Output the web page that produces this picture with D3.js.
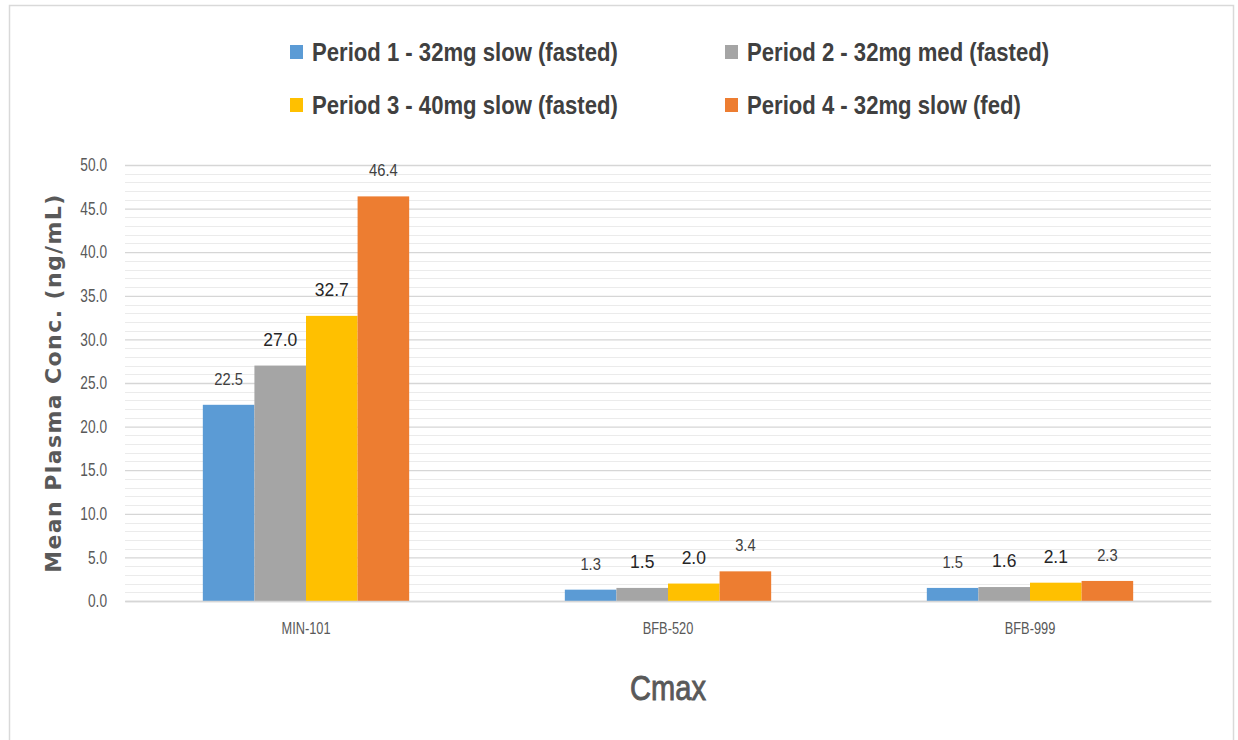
<!DOCTYPE html>
<html>
<head>
<meta charset="utf-8">
<script src="https://cdn.jsdelivr.net/npm/d3@7"></script>
<style>
  html, body { margin: 0; padding: 0; background: #ffffff; }
  svg { display: block; }
</style>
</head>
<body>
<script>
// Compounds on the x axis
const categories = ["MIN-101", "BFB-520", "BFB-999"];

// Dosing periods (series)
const seriesNames = [
  "Period 1 - 32mg slow (fasted)",
  "Period 2 - 32mg med (fasted)",
  "Period 3 - 40mg slow (fasted)",
  "Period 4 - 32mg slow (fed)"
];

// Cmax values (ng/mL), one array per period, in category order
const period1 = [22.5, 1.3, 1.5];
const period2 = [27.0, 1.5, 1.6];
const period3 = [32.7, 2.0, 2.1];
const period4 = [46.4, 3.4, 2.3];
const seriesValues = [period1, period2, period3, period4];

// Y axis ticks
const yTicks = [0, 5, 10, 15, 20, 25, 30, 35, 40, 45, 50];

const colors = ["#5b9bd5", "#a5a5a5", "#ffc000", "#ed7d31"];

// Some data labels were set in a larger, darker face
const emphasisLabels = new Set(["1-0", "2-0", "1-1", "2-1", "1-2", "2-2"]);

const W = 1238, H = 740;
const sans = "'Liberation Sans', Arial, sans-serif";

// Squeeze a text run horizontally to imitate a condensed face
function condense(sel, k) {
  sel.each(function () {
    const w = this.getComputedTextLength();
    d3.select(this)
      .attr("textLength", w * k)
      .attr("lengthAdjust", "spacingAndGlyphs");
  });
}

const svg = d3.select("body").append("svg")
  .attr("width", W).attr("height", H);

// Chart frame
svg.append("rect")
  .attr("x", 9.5).attr("y", 5.5)
  .attr("width", 1224).attr("height", 740)
  .attr("fill", "#ffffff")
  .attr("stroke", "#d9d9d9").attr("stroke-width", 1.5);

const plot = { left: 125, right: 1211, top: 165, bottom: 601 };

const x0 = d3.scaleBand()
  .domain(categories)
  .range([plot.left, plot.right])
  .paddingInner(0.43)
  .paddingOuter(0.215);

const x1 = d3.scaleBand()
  .domain(d3.range(seriesNames.length))
  .range([0, x0.bandwidth()]);

const y = d3.scaleLinear().domain([0, 50]).range([plot.bottom, plot.top]);

// Minor gridlines every 1.0
const g = svg.append("g");
g.selectAll("line.minor")
  .data(d3.range(1, 50).filter(v => v % 5 !== 0))
  .join("line")
  .attr("class", "minor")
  .attr("x1", plot.left).attr("x2", plot.right)
  .attr("y1", d => Math.round(y(d)) + 0.5).attr("y2", d => Math.round(y(d)) + 0.5)
  .attr("stroke", "#ebebeb").attr("stroke-width", 1);

// Major gridlines via the axis
const yAxis = d3.axisLeft(y)
  .tickValues(yTicks)
  .tickFormat(d3.format(".1f"))
  .tickSize(-(plot.right - plot.left))
  .tickPadding(18);

const ya = svg.append("g")
  .attr("transform", `translate(${plot.left},0)`)
  .call(yAxis);
ya.select(".domain").remove();
ya.selectAll(".tick line").attr("stroke", "#d6d6d6").attr("stroke-width", 1.3);
ya.selectAll(".tick text")
  .attr("fill", "#595959")
  .style("font-family", sans)
  .style("font-size", "18px")
  .call(condense, 0.76);

// Bars
const groups = svg.append("g").selectAll("g")
  .data(categories)
  .join("g")
  .attr("transform", d => `translate(${x0(d)},0)`);

groups.selectAll("rect")
  .data((c, ci) => seriesValues.map((vals, si) => ({ si, ci, v: vals[ci] })))
  .join("rect")
  .attr("x", d => x1(d.si))
  .attr("width", x1.bandwidth())
  .attr("y", d => y(d.v))
  .attr("height", d => y(0) - y(d.v))
  .attr("fill", d => colors[d.si]);

// Data labels
groups.selectAll("text")
  .data((c, ci) => seriesValues.map((vals, si) => ({ si, ci, v: vals[ci] })))
  .join("text")
  .attr("x", d => x1(d.si) + x1.bandwidth() / 2)
  .attr("y", d => y(d.v) - 20)
  .attr("text-anchor", "middle")
  .attr("fill", d => emphasisLabels.has(`${d.si}-${d.ci}`) ? "#262626" : "#404040")
  .style("font-family", sans)
  .style("font-size", d => emphasisLabels.has(`${d.si}-${d.ci}`) ? "19px" : "16px")
  .text(d => d3.format(".1f")(d.v))
  .call(condense, 0.92);

// Category axis
const xAxis = d3.axisBottom(x0).tickSize(0).tickPadding(22);
const xa = svg.append("g")
  .attr("transform", `translate(0,${plot.bottom})`)
  .call(xAxis);
xa.select(".domain")
  .attr("stroke", "#d6d6d6").attr("stroke-width", 1.3);
xa.selectAll(".tick text")
  .attr("fill", "#595959")
  .style("font-family", sans)
  .style("font-size", "16px")
  .call(condense, 0.8);

// Axis titles
svg.append("text")
  .attr("transform", `translate(61,${(plot.top + plot.bottom) / 2}) rotate(-90)`)
  .attr("text-anchor", "middle")
  .attr("fill", "#595959")
  .style("font-family", "'DejaVu Sans', Verdana, sans-serif")
  .style("font-weight", "bold")
  .style("font-size", "22px")
  .style("letter-spacing", "1.4px")
  .text("Mean Plasma Conc. (ng/mL)");

svg.append("text")
  .attr("x", (plot.left + plot.right) / 2)
  .attr("y", 700)
  .attr("text-anchor", "middle")
  .attr("fill", "#595959")
  .attr("stroke", "#595959")
  .attr("stroke-width", 0.9)
  .style("font-family", sans)
  .style("font-size", "35px")
  .text("Cmax")
  .call(condense, 0.83);

// Legend: two columns, two rows
const legendPos = [
  { x: 290, y: 52 }, { x: 725, y: 52 },
  { x: 290, y: 105 }, { x: 725, y: 105 }
];
const legend = svg.append("g").selectAll("g")
  .data(seriesNames)
  .join("g")
  .attr("transform", (d, i) => `translate(${legendPos[i].x},${legendPos[i].y})`);
legend.append("rect")
  .attr("x", 0).attr("y", -7)
  .attr("width", 13).attr("height", 14)
  .attr("fill", (d, i) => colors[i]);
legend.append("text")
  .attr("x", 22).attr("y", 9)
  .attr("fill", "#404040")
  .style("font-family", sans)
  .style("font-weight", "bold")
  .style("font-size", "26px")
  .text(d => d)
  .call(condense, 0.85);
</script>
</body>
</html>
